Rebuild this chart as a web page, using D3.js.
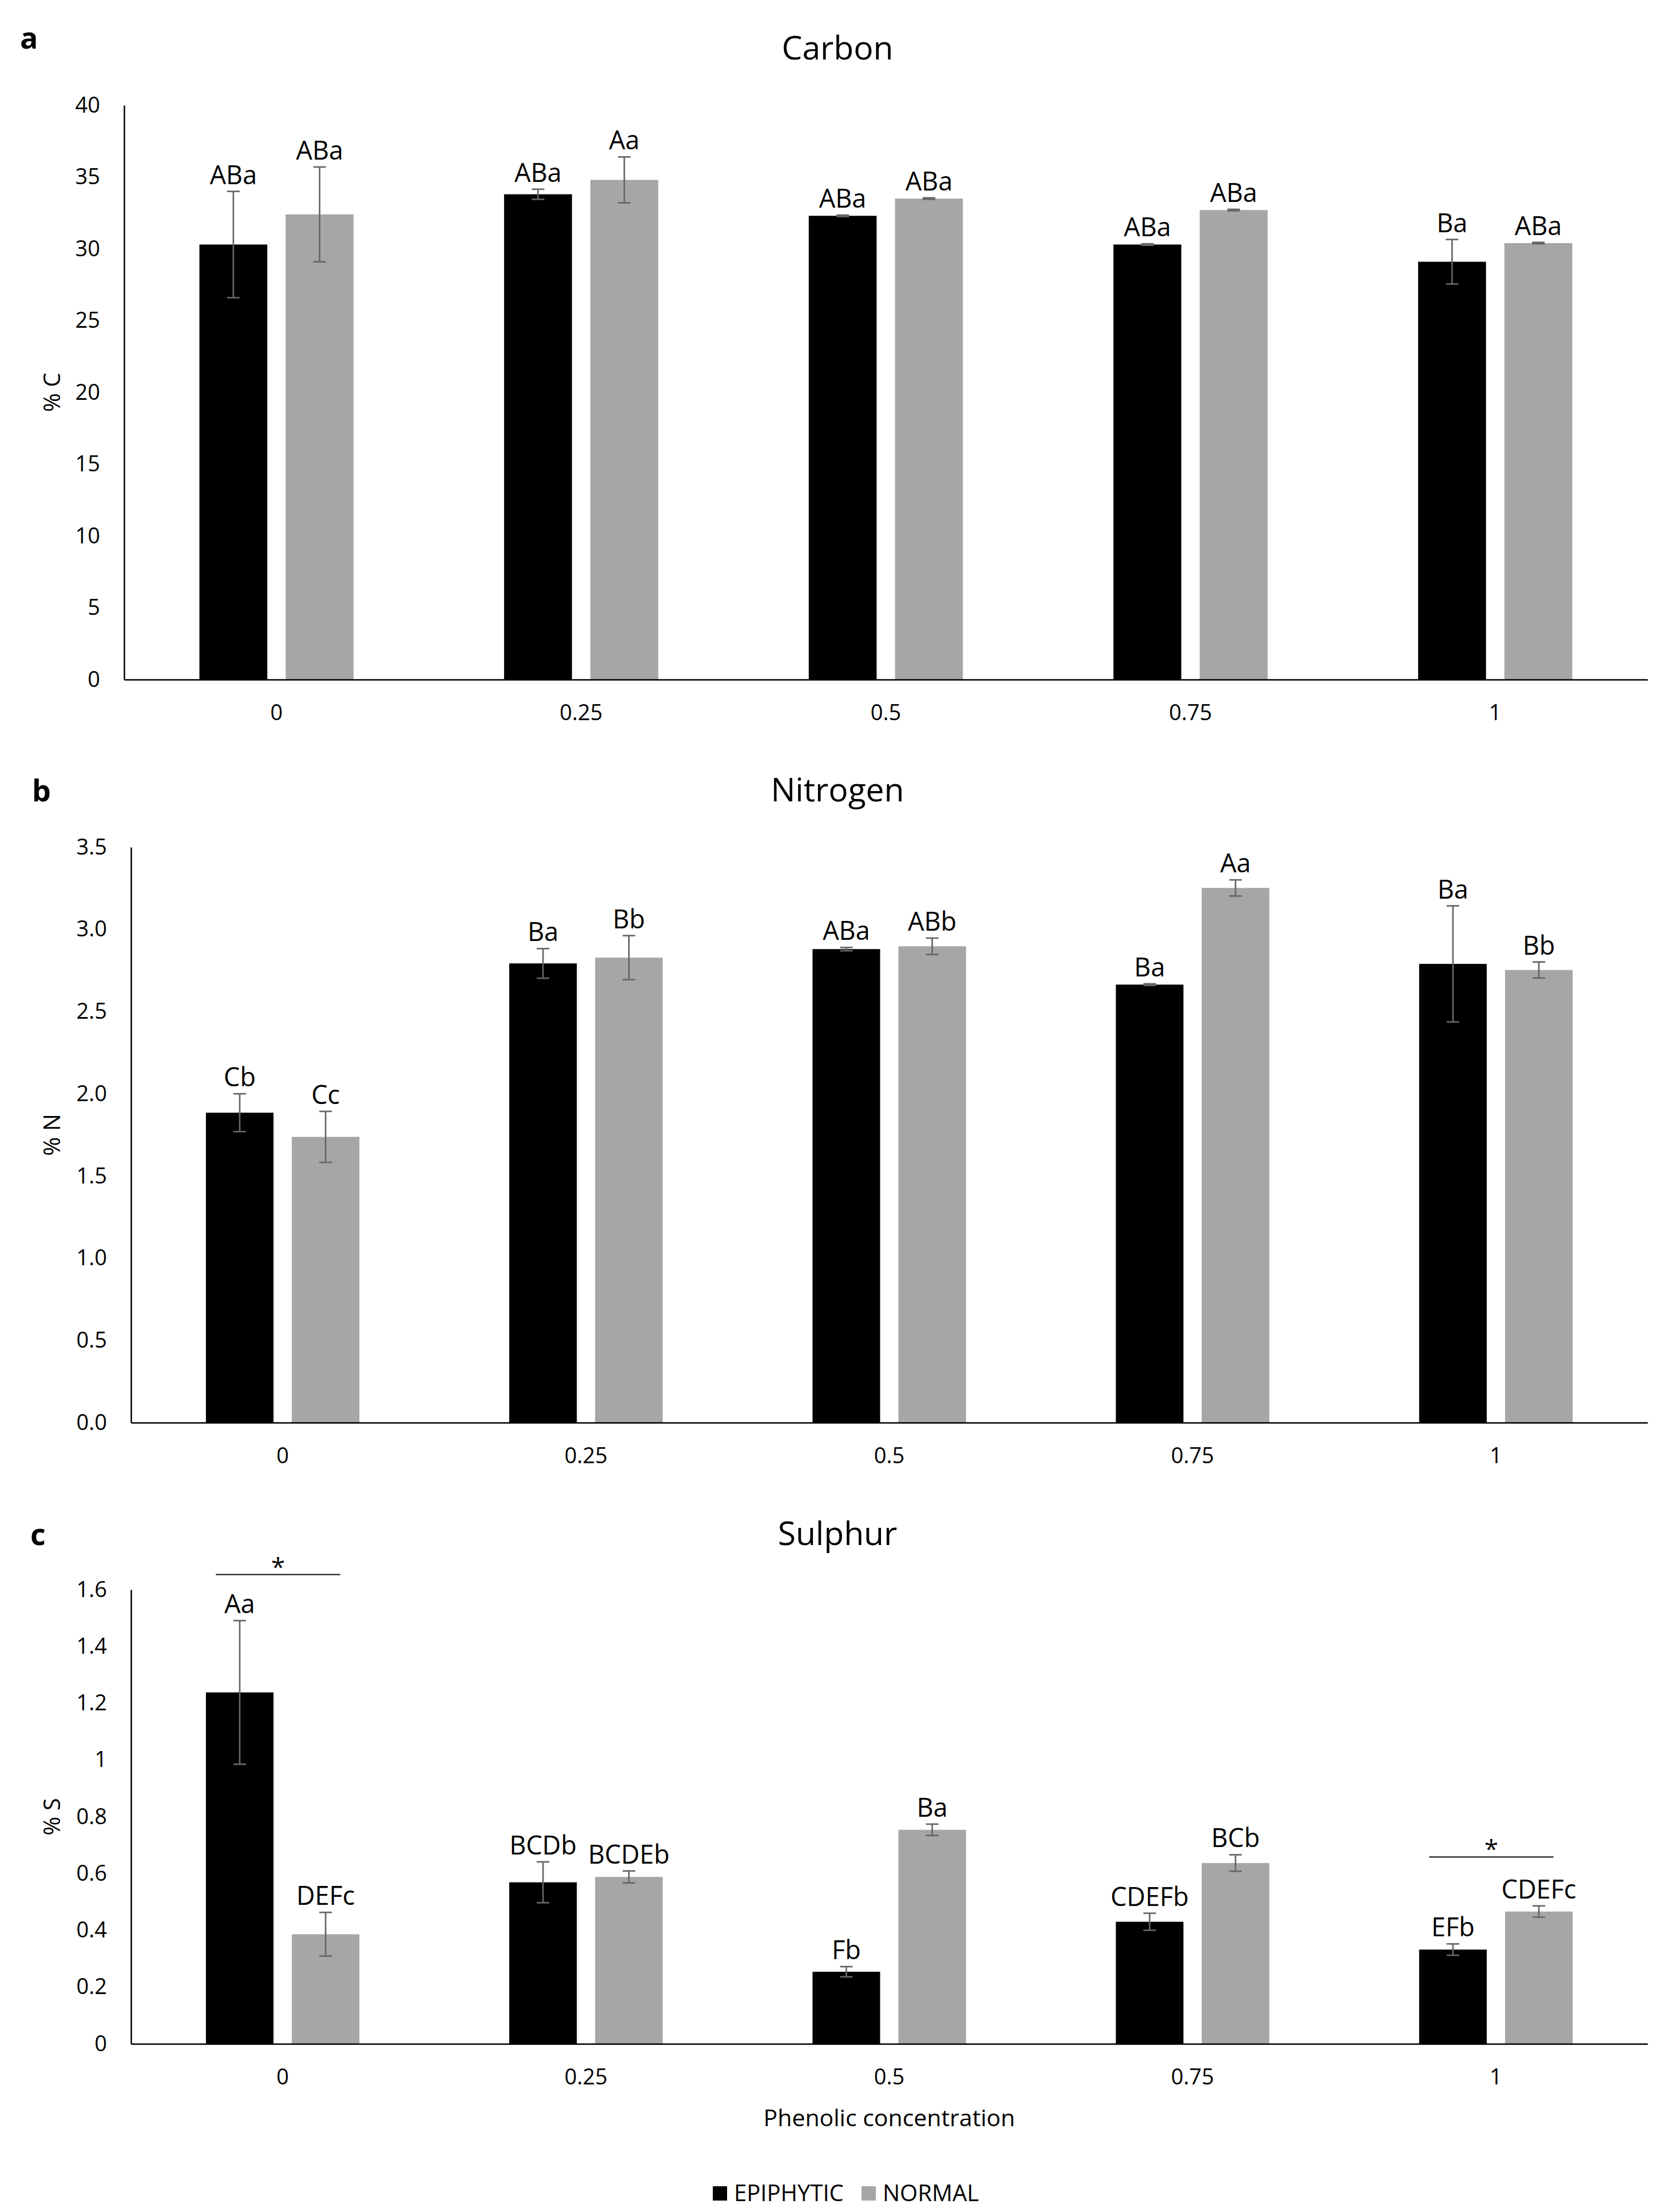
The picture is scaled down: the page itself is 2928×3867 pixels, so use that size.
<!DOCTYPE html>
<html lang="en">
<head>
    <meta charset="UTF-8">
    <title>Carbon, Nitrogen, Sulphur</title>
    <script src="https://d3js.org/d3.v7.min.js"></script>
    <style>
        body { margin: 0; background: #fff; }
        text { font-family: "Open Sans", "Noto Sans", sans-serif; fill: #000; }
    </style>
</head>
<body>
    <div id="chart"></div>
    <script>
        // categories and series
        const concentrations = ["0", "0.25", "0.5", "0.75", "1"];
        const seriesNames = ["EPIPHYTIC", "NORMAL"];

        // Carbon (% C)
        const carbonEpi = [30.3, 33.8, 32.3, 30.3, 29.1];
        const carbonEpiErr = [3.7, 0.35, 0.05, 0.05, 1.55];
        const carbonNor = [32.4, 34.8, 33.5, 32.7, 30.4];
        const carbonNorErr = [3.3, 1.6, 0.05, 0.05, 0.05];
        const carbonEpiLabels = ["ABa", "ABa", "ABa", "ABa", "Ba"];
        const carbonNorLabels = ["ABa", "Aa", "ABa", "ABa", "ABa"];
        const carbonTicks = [0, 5, 10, 15, 20, 25, 30, 35, 40];
        const carbonTickLabels = ["0", "5", "10", "15", "20", "25", "30", "35", "40"];

        // Nitrogen (% N)
        const nitrogenEpi = [1.885, 2.793, 2.88, 2.664, 2.79];
        const nitrogenEpiErr = [0.115, 0.09, 0.01, 0.005, 0.353];
        const nitrogenNor = [1.738, 2.828, 2.897, 3.252, 2.753];
        const nitrogenNorErr = [0.155, 0.134, 0.05, 0.049, 0.049];
        const nitrogenEpiLabels = ["Cb", "Ba", "ABa", "Ba", "Ba"];
        const nitrogenNorLabels = ["Cc", "Bb", "ABb", "Aa", "Bb"];
        const nitrogenTicks = [0, 0.5, 1, 1.5, 2, 2.5, 3, 3.5];
        const nitrogenTickLabels = ["0.0", "0.5", "1.0", "1.5", "2.0", "2.5", "3.0", "3.5"];

        // Sulphur (% S)
        const sulphurEpi = [1.238, 0.569, 0.254, 0.43, 0.332];
        const sulphurEpiErr = [0.253, 0.072, 0.018, 0.03, 0.02];
        const sulphurNor = [0.386, 0.588, 0.754, 0.637, 0.466];
        const sulphurNorErr = [0.077, 0.021, 0.02, 0.029, 0.02];
        const sulphurEpiLabels = ["Aa", "BCDb", "Fb", "CDEFb", "EFb"];
        const sulphurNorLabels = ["DEFc", "BCDEb", "Ba", "BCb", "CDEFc"];
        const sulphurTicks = [0, 0.2, 0.4, 0.6, 0.8, 1, 1.2, 1.4, 1.6];
        const sulphurTickLabels = ["0", "0.2", "0.4", "0.6", "0.8", "1", "1.2", "1.4", "1.6"];
        // significance bars (category, level in % S)
        const sulphurSigCats = ["0", "1"];
        const sulphurSigLevels = [1.653, 0.658];

        const colors = { EPIPHYTIC: "#000000", NORMAL: "#a6a6a6" };

        const W = 2928, H = 3867;
        const svg = d3.select("#chart").append("svg")
            .attr("width", W).attr("height", H);
        svg.append("rect").attr("width", W).attr("height", H).attr("fill", "#fff");

        function drawPanel(p) {
            let g = svg.append("g");

            let x = d3.scaleBand()
                .domain(concentrations)
                .range([p.left, p.right])
                .padding(0);

            let bw = x.bandwidth();
            let x1 = d3.scaleBand()
                .domain(seriesNames)
                .range([0.247 * bw, 0.753 * bw])
                .paddingInner(0.213);

            let y = d3.scaleLinear()
                .domain([0, p.max])
                .range([p.bottom, p.top]);

            let rows = [];
            concentrations.forEach((c, i) => {
                rows.push({ cat: c, s: "EPIPHYTIC", v: p.epi[i], e: p.epiErr[i], lbl: p.epiLabels[i] });
                rows.push({ cat: c, s: "NORMAL", v: p.nor[i], e: p.norErr[i], lbl: p.norLabels[i] });
            });

            // bars
            g.selectAll("rect.bar")
                .data(rows)
                .enter().append("rect")
                .attr("class", "bar")
                .attr("x", d => x(d.cat) + x1(d.s))
                .attr("y", d => y(d.v))
                .attr("width", x1.bandwidth())
                .attr("height", d => y(0) - y(d.v))
                .attr("fill", d => colors[d.s]);

            // error bars
            let cx = d => x(d.cat) + x1(d.s) + x1.bandwidth() / 2;
            let eb = g.selectAll("g.err").data(rows).enter().append("g")
                .attr("stroke", "#666").attr("stroke-width", 2.7);
            eb.append("line")
                .attr("x1", cx).attr("x2", cx)
                .attr("y1", d => y(d.v + d.e)).attr("y2", d => y(d.v - d.e));
            eb.append("line")
                .attr("x1", d => cx(d) - 11).attr("x2", d => cx(d) + 11)
                .attr("y1", d => y(d.v + d.e)).attr("y2", d => y(d.v + d.e));
            eb.append("line")
                .attr("x1", d => cx(d) - 11).attr("x2", d => cx(d) + 11)
                .attr("y1", d => y(d.v - d.e)).attr("y2", d => y(d.v - d.e));

            // letter labels
            g.selectAll("text.lbl").data(rows).enter().append("text")
                .attr("class", "lbl")
                .attr("x", cx)
                .attr("y", d => y(d.v + d.e) - 13)
                .attr("text-anchor", "middle")
                .attr("font-size", 45)
                .text(d => d.lbl);

            // axes
            let yAxis = d3.axisLeft(y)
                .tickValues(p.ticks)
                .tickFormat((d, i) => p.tickLabels[i])
                .tickSize(0)
                .tickPadding(42);
            g.append("g")
                .attr("transform", `translate(${p.left},0)`)
                .call(yAxis)
                .call(a => a.select(".domain").attr("stroke", "#000").attr("stroke-width", 2.5))
                .call(a => a.selectAll("text").attr("font-size", 38).attr("font-family", "Open Sans"));

            let xAxis = d3.axisBottom(x).tickSize(0).tickPadding(44);
            g.append("g")
                .attr("transform", `translate(0,${p.bottom})`)
                .call(xAxis)
                .call(a => a.select(".domain").attr("stroke", "#000").attr("stroke-width", 2.5))
                .call(a => a.selectAll("text").attr("font-size", 38).attr("font-family", "Open Sans"));

            // y title
            g.append("text")
                .attr("transform", `translate(91,${(p.top + p.bottom) / 2}) rotate(-90)`)
                .attr("dy", "0.35em")
                .attr("text-anchor", "middle")
                .attr("font-size", 40)
                .text(p.yTitle);

            // chart title and panel letter
            g.append("text")
                .attr("x", W / 2).attr("y", p.titleY)
                .attr("text-anchor", "middle")
                .attr("font-size", 57)
                .text(p.title);
            g.append("text")
                .attr("x", p.letterX).attr("y", p.letterY)
                .attr("font-size", 52).attr("font-weight", "bold")
                .text(p.letter);

            return { x, y, g };
        }

        drawPanel({
            left: 217, right: 2880, top: 184, bottom: 1188, max: 40,
            epi: carbonEpi, epiErr: carbonEpiErr, nor: carbonNor, norErr: carbonNorErr,
            epiLabels: carbonEpiLabels, norLabels: carbonNorLabels,
            ticks: carbonTicks, tickLabels: carbonTickLabels,
            yTitle: "% C", title: "Carbon", titleY: 104, letter: "a", letterX: 35, letterY: 85
        });

        drawPanel({
            left: 229, right: 2880, top: 1481, bottom: 2487, max: 3.5,
            epi: nitrogenEpi, epiErr: nitrogenEpiErr, nor: nitrogenNor, norErr: nitrogenNorErr,
            epiLabels: nitrogenEpiLabels, norLabels: nitrogenNorLabels,
            ticks: nitrogenTicks, tickLabels: nitrogenTickLabels,
            yTitle: "% N", title: "Nitrogen", titleY: 1401, letter: "b", letterX: 56, letterY: 1401
        });

        let sp = drawPanel({
            left: 229, right: 2880, top: 2779, bottom: 3573, max: 1.6,
            epi: sulphurEpi, epiErr: sulphurEpiErr, nor: sulphurNor, norErr: sulphurNorErr,
            epiLabels: sulphurEpiLabels, norLabels: sulphurNorLabels,
            ticks: sulphurTicks, tickLabels: sulphurTickLabels,
            yTitle: "% S", title: "Sulphur", titleY: 2701, letter: "c", letterX: 53, letterY: 2701
        });

        // significance markers
        let sig = sulphurSigCats.map((c, i) => ({ cat: c, level: sulphurSigLevels[i] }));
        let bwS = sp.x.bandwidth();
        sp.g.selectAll("line.sig").data(sig).enter().append("line")
            .attr("x1", d => sp.x(d.cat) + bwS * 0.28)
            .attr("x2", d => sp.x(d.cat) + bwS * 0.69)
            .attr("y1", d => sp.y(d.level)).attr("y2", d => sp.y(d.level))
            .attr("stroke", "#222").attr("stroke-width", 2.2);
        sp.g.selectAll("text.sig").data(sig).enter().append("text")
            .attr("x", d => sp.x(d.cat) + bwS * 0.485)
            .attr("y", d => sp.y(d.level) + 2)
            .attr("text-anchor", "middle")
            .attr("font-size", 44)
            .text("*");

        // x axis title
        svg.append("text")
            .attr("x", (229 + 2880) / 2).attr("y", 3717)
            .attr("text-anchor", "middle")
            .attr("font-size", 41)
            .text("Phenolic concentration");

        // legend
        let legend = svg.append("g").attr("transform", "translate(1246,3822)");
        let legX = [0, 260];
        seriesNames.forEach((s, i) => {
            legend.append("rect")
                .attr("x", legX[i]).attr("y", 0)
                .attr("width", 25).attr("height", 25)
                .attr("fill", colors[s]);
            legend.append("text")
                .attr("x", legX[i] + 37).attr("y", 26)
                .attr("font-size", 40)
                .text(s);
        });
    </script>
</body>
</html>
